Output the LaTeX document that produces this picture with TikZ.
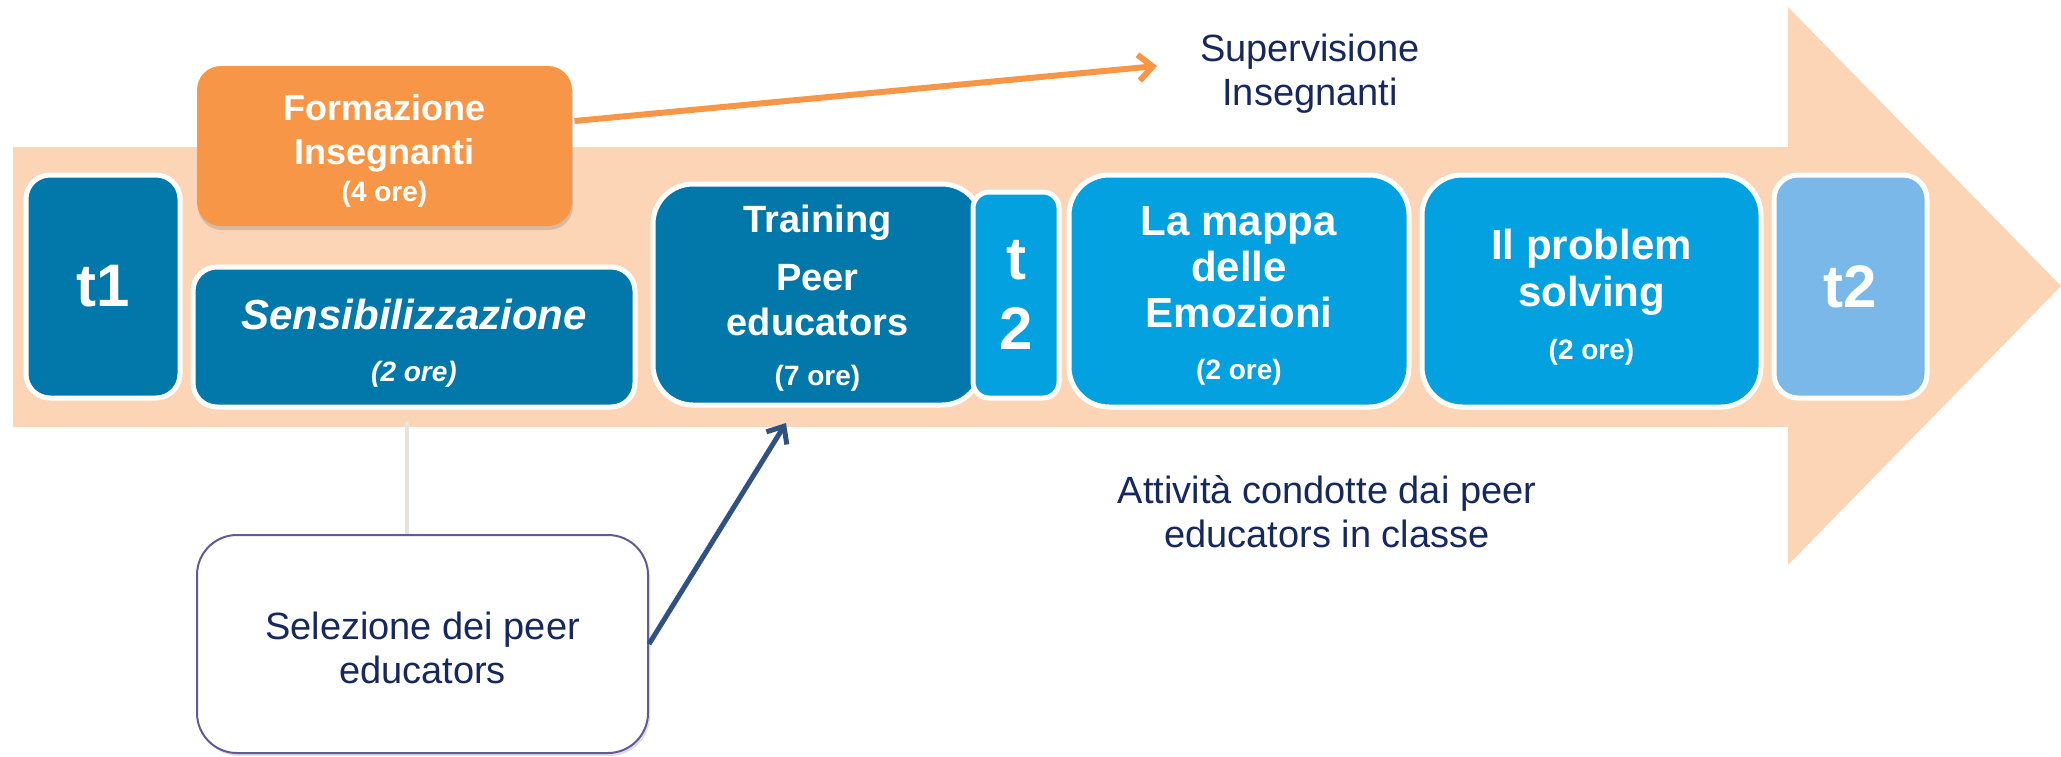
\documentclass[tikz,border=0pt]{standalone}
\usepackage{fontspec}
\setmainfont{Liberation Sans}
\usetikzlibrary{arrows.meta,shadows}
\pgfdeclarelayer{bg}
\pgfsetlayers{bg,main}
\definecolor{peach}{HTML}{FBD5B5}
\definecolor{darkblue}{HTML}{0278AA}
\definecolor{midblue}{HTML}{04A1E0}
\definecolor{paleblue}{HTML}{7AB8EA}
\definecolor{formorange}{HTML}{F79646}
\definecolor{navy}{HTML}{16285E}
\definecolor{arrowblue}{HTML}{2F5183}
\definecolor{boxline}{HTML}{605A96}
\definecolor{stem}{HTML}{E6E3D8}
\newcommand{\durata}[1]{{\fontsize{14}{16}\selectfont #1}}
\newcommand{\padtop}[1]{\rule{0pt}{#1}}

\begin{document}
\begin{tikzpicture}[x=0.5pt, y=-0.5pt,
    phase/.style={draw=white, line width=2.5pt, text=white, align=center, inner sep=0pt, rounded corners=12pt},
    darkbox/.style={phase, fill=darkblue},
    lightbox/.style={phase, fill=midblue, rounded corners=20pt},
    note/.style={text=navy, align=center, font=\fontsize{19}{22}\selectfont}]
  \useasboundingbox (0, 0) rectangle (2061, 756);

  \node (t1) [darkbox, minimum width=77pt, minimum height=111.5pt, font=\bfseries\fontsize{30}{36}\selectfont] at (103, 286.5) {t1};
  \node (form) [phase, draw=none, fill=formorange, drop shadow={opacity=0.3, shadow xshift=0.5pt, shadow yshift=-2pt},
    minimum width=187.5pt, minimum height=80pt, font=\bfseries\fontsize{18}{22}\selectfont] at (384.5, 146)
    {\padtop{18pt}Formazione\\Insegnanti\\[-3.5pt]\durata{(4 ore)}};
  \node (sens) [darkbox, minimum width=221pt, minimum height=70pt, font=\bfseries\itshape\fontsize{21}{26}\selectfont] at (414, 337)
    {\padtop{21.5pt}Sensibilizzazione\\\durata{(2 ore)}};

  \node (train) [darkbox, rounded corners=20pt, minimum width=164.5pt, minimum height=110.5pt, font=\bfseries\fontsize{19}{22.5}\selectfont] at (817.5, 294.5)
    {\padtop{17.5pt}Training\\[6.5pt]Peer\\educators\\[2.5pt]\durata{(7 ore)}};
  \node (t2a) [phase, fill=midblue, rounded corners=8pt, minimum width=43pt, minimum height=103pt, font=\bfseries\fontsize{30}{35}\selectfont] at (1016, 295) {t\\2};

  \node (mappa) [lightbox, minimum width=170pt, minimum height=116pt, font=\bfseries\fontsize{21}{23}\selectfont] at (1239, 291)
    {\padtop{19.5pt}La mappa\\delle\\Emozioni\\[3pt]\durata{(2 ore)}};
  \node (probl) [lightbox, minimum width=169.5pt, minimum height=116pt, font=\bfseries\fontsize{21}{23.5}\selectfont] at (1591.5, 291)
    {\padtop{21pt}Il problem\\solving\\[3pt]\durata{(2 ore)}};
  \node (t2) [phase, fill=paleblue, minimum width=76.5pt, minimum height=111.5pt, font=\bfseries\fontsize{30}{36}\selectfont] at (1850.5, 286.5) {t2};

  \node (sel) [phase, fill=white, draw=boxline, line width=1pt, rounded corners=20pt, text=navy, font=\fontsize{19}{22}\selectfont,
    drop shadow={opacity=0.25, shadow xshift=1pt, shadow yshift=-1.5pt}, minimum width=225.5pt, minimum height=109pt] at (422.5, 644)
    {\padtop{18pt}Selezione dei peer\\educators};

  \node (sup) [note] at (1310, 74) {Supervisione\\Insegnanti};
  \node (att) [note] at (1327, 512) {Attività condotte dai peer\\educators in classe};

  \coordinate (supin) at (1157, 66);
  \coordinate (trin) at (786, 423);

  \begin{pgfonlayer}{bg}
    \fill[peach] (13, 147) -- (1788, 147) -- (1788, 7) -- (2061, 286) -- (1788, 565) -- (1788, 427) -- (13, 427) -- cycle;
  \end{pgfonlayer}

  \draw[formorange, line width=3pt, -{Straight Barb[length=7pt, width=13pt]}] ([yshift=12.5pt]form.east) -- (supin);
  \draw[arrowblue, line width=2.5pt, -{Straight Barb[length=7pt, width=12pt]}] (sel.east) -- (trin);
  \draw[stem, line width=2pt] ([xshift=-3.5pt, yshift=-5.5pt]sens.south) -- ([xshift=-7.75pt]sel.north);
\end{tikzpicture}
\end{document}
